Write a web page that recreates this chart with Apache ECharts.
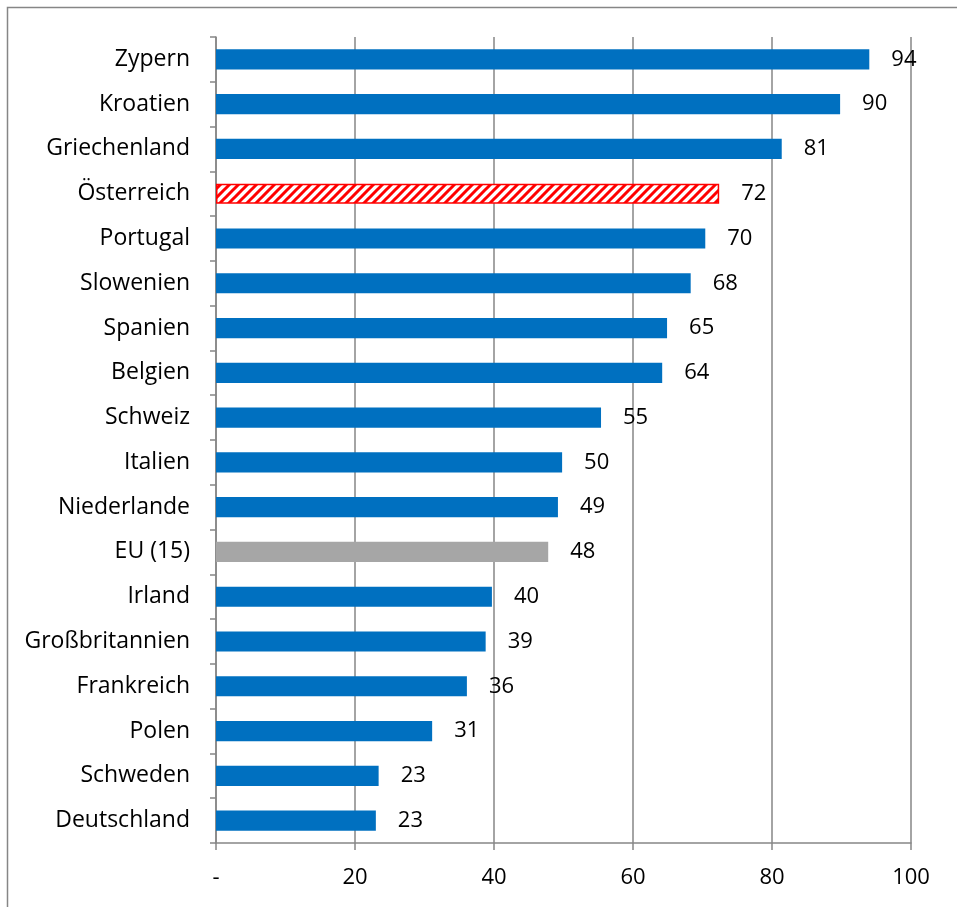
<!DOCTYPE html>
<html>
<head>
<meta charset="utf-8">
<script src="https://cdn.jsdelivr.net/npm/echarts@6/dist/echarts.min.js"></script>
<style>
html, body { margin: 0; padding: 0; background: #fff; }
#chart { width: 957px; height: 907px; }
</style>
</head>
<body>
<div id="chart"></div>
<script>
// Länder von oben nach unten
var countries = ['Zypern', 'Kroatien', 'Griechenland', 'Österreich', 'Portugal', 'Slowenien',
	'Spanien', 'Belgien', 'Schweiz', 'Italien', 'Niederlande', 'EU (15)', 'Irland',
	'Großbritannien', 'Frankreich', 'Polen', 'Schweden', 'Deutschland'];
var values = [94.0, 89.8, 81.4, 72.4, 70.4, 68.3, 64.9, 64.2, 55.4, 49.8, 49.2, 47.8, 39.7,
	38.8, 36.1, 31.1, 23.4, 23.0];
var xTicks = ['-', '20', '40', '60', '80', '100'];

var highlight = 'Österreich', average = 'EU (15)';

// Schraffur fuer Oesterreich
function hatch() {
	var c = document.createElement('canvas'), s = 9;
	c.width = s; c.height = s;
	var g = c.getContext('2d');
	g.fillStyle = '#fff';
	g.fillRect(0, 0, s, s);
	g.strokeStyle = '#ff0000';
	g.lineWidth = 3;
	g.beginPath();
	g.moveTo(-2, s + 2); g.lineTo(s + 2, -2);
	g.moveTo(-2, 2); g.lineTo(2, -2);
	g.moveTo(s - 2, s + 2); g.lineTo(s + 2, s - 2);
	g.stroke();
	return c;
}

var barData = countries.map(function(name, i) {
	var item = {value: values[i], name: name};
	if (name === highlight) {
		item.itemStyle = {color: {image: hatch(), repeat: 'repeat'}, borderColor: '#ff0000', borderWidth: 1.5};
	} else if (name === average) {
		item.itemStyle = {color: '#a6a6a6'};
	}
	return item;
});

var chart = echarts.init(document.getElementById('chart'));
var font = '"Open Sans", "Noto Sans", sans-serif';
chart.setOption({
	animation: false,
	textStyle: {fontFamily: font},
	graphic: [{
		type: 'rect',
		shape: {x: 7.5, y: 7.5, width: 1000, height: 1000},
		style: {fill: 'none', stroke: '#868686', lineWidth: 1.5},
		silent: true
	}],
	grid: {left: 216, right: 46, top: 37, bottom: 64, containLabel: false},
	xAxis: {
		type: 'value',
		min: 0, max: 100, interval: 20,
		axisLine: {show: true, lineStyle: {color: '#868686', width: 1.5}},
		axisTick: {show: true, length: 7, lineStyle: {color: '#868686', width: 1.5}},
		splitLine: {show: true, lineStyle: {color: '#868686', width: 1.5}},
		axisLabel: {
			fontSize: 22, color: '#000', margin: 24, fontFamily: font,
			formatter: function(v) { return xTicks[Math.round(v / 20)]; }
		}
	},
	yAxis: {
		type: 'category',
		data: countries,
		inverse: true,
		axisLine: {show: true, lineStyle: {color: '#868686', width: 1.5}},
		axisTick: {show: true, length: 6, lineStyle: {color: '#868686', width: 1.5}},
		axisLabel: {fontSize: 23, color: '#000', margin: 26, fontFamily: font}
	},
	series: [{
		type: 'bar',
		data: barData,
		barWidth: '45%',
		itemStyle: {color: '#0070c0'},
		label: {
			show: true, position: 'right', distance: 22,
			fontSize: 22, color: '#000', fontFamily: font,
			formatter: function(p) { return Math.round(p.value); }
		}
	}]
});
</script>
</body>
</html>
